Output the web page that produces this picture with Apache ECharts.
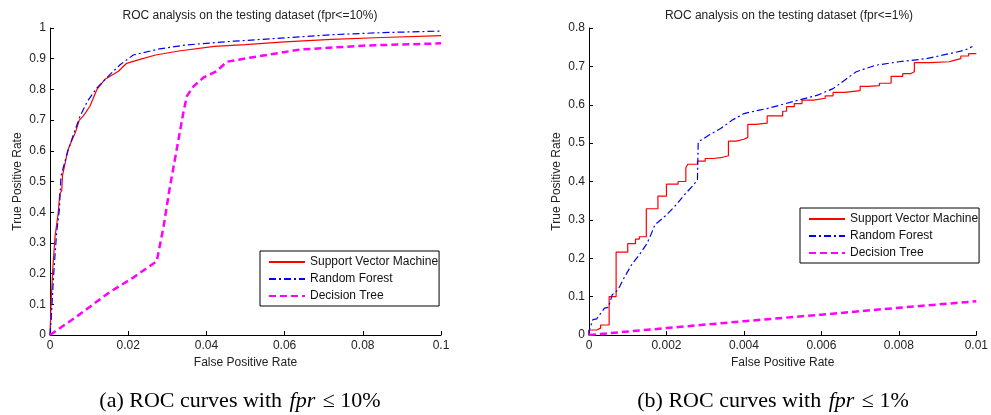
<!DOCTYPE html>
<html><head><meta charset="utf-8">
<script src="https://cdn.jsdelivr.net/npm/echarts@6/dist/echarts.min.js"></script>
<style>html,body{margin:0;padding:0;background:#fff}#c{width:991px;height:415px}</style>
</head><body><div id="c"></div>
<script>
const seriesNames = ['Support Vector Machine', 'Random Forest', 'Decision Tree'];
const titles = ['ROC analysis on the testing dataset (fpr<=10%)', 'ROC analysis on the testing dataset (fpr<=1%)'];
const captionLabels = ['(a) ROC curves with ', '(b) ROC curves with '];
const captionTails = [' \u2264 10%', ' \u2264 1%'];

// Left panel (fpr <= 10%)
const svmA = [[0,0],[0.0003,0.11],[0.0007,0.213],[0.0013,0.322],[0.0021,0.398],[0.0025,0.46],[0.003,0.47],[0.0032,0.52],[0.0038,0.555],[0.0045,0.6],[0.0055,0.631],[0.0065,0.66],[0.0075,0.70],[0.0085,0.713],[0.0102,0.745],[0.012,0.80],[0.014,0.832],[0.0175,0.859],[0.0196,0.885],[0.023,0.898],[0.027,0.912],[0.033,0.925],[0.042,0.94],[0.05,0.946],[0.06,0.955],[0.072,0.963],[0.085,0.969],[0.1,0.975]];
const rfA = [[0,0],[0.0003,0.05],[0.0009,0.19],[0.0017,0.334],[0.0024,0.409],[0.0028,0.517],[0.0037,0.56],[0.0047,0.604],[0.0062,0.66],[0.0077,0.713],[0.0095,0.76],[0.012,0.805],[0.0153,0.848],[0.018,0.881],[0.0213,0.912],[0.028,0.932],[0.035,0.945],[0.047,0.957],[0.06,0.968],[0.072,0.978],[0.085,0.985],[0.1,0.99]];
const dtA = [[0,0],[0.0068,0.06],[0.0153,0.14],[0.0213,0.187],[0.0273,0.24],[0.029,0.35],[0.0307,0.485],[0.0324,0.604],[0.0341,0.724],[0.035,0.778],[0.0367,0.81],[0.0392,0.838],[0.0426,0.859],[0.0452,0.89],[0.051,0.903],[0.064,0.93],[0.081,0.943],[0.1,0.95]];

// Right panel (fpr <= 1%)
const svmB = [[0,0],[0,0.013],[0.0002,0.018],[0.0003,0.026],[0.00052,0.1],[0.0007,0.216],[0.001,0.238],[0.0012,0.25],[0.0013,0.256],[0.00148,0.329],[0.00178,0.362],[0.002,0.393],[0.0023,0.4],[0.0025,0.436],[0.00255,0.445],[0.0028,0.453],[0.003,0.46],[0.0032,0.462],[0.0034,0.467],[0.0036,0.505],[0.0038,0.51],[0.004,0.515],[0.0041,0.549],[0.0043,0.552],[0.0046,0.571],[0.005,0.583],[0.0051,0.595],[0.0053,0.603],[0.0055,0.612],[0.0058,0.617],[0.0061,0.623],[0.0063,0.632],[0.0066,0.637],[0.007,0.648],[0.0072,0.65],[0.0075,0.656],[0.0078,0.674],[0.0081,0.681],[0.0083,0.686],[0.0084,0.71],[0.0088,0.712],[0.0093,0.715],[0.0094,0.72],[0.0096,0.727],[0.0098,0.733],[0.01,0.734]];
const rfB = [[0,0],[0,0.01],[0.0001,0.04],[0.0002,0.042],[0.0004,0.07],[0.0005,0.072],[0.0006,0.105],[0.00075,0.118],[0.0009,0.148],[0.0011,0.183],[0.0013,0.209],[0.0015,0.239],[0.0016,0.262],[0.0017,0.287],[0.002,0.313],[0.00225,0.339],[0.00246,0.365],[0.0027,0.391],[0.0028,0.405],[0.00282,0.503],[0.0031,0.521],[0.0034,0.538],[0.0037,0.56],[0.004,0.577],[0.0044,0.586],[0.0046,0.59],[0.0054,0.612],[0.0059,0.625],[0.0063,0.642],[0.0066,0.664],[0.0069,0.686],[0.0074,0.703],[0.008,0.712],[0.0087,0.72],[0.0093,0.733],[0.0097,0.742],[0.0099,0.752]];
const dtB = [[0,0],[0.002,0.018],[0.004,0.036],[0.006,0.053],[0.008,0.071],[0.01,0.088]];

const FONT = 'Liberation Sans, Arial, Helvetica, sans-serif';
const SERIF = 'Liberation Serif, Times New Roman, serif';
const fmt = v => String(parseFloat(v.toFixed(4)));

function xAxis(gi, max, interval) {
  return {
    type: 'value', gridIndex: gi, min: 0, max: max, interval: interval,
    name: 'False Positive Rate', nameLocation: 'middle', nameGap: 20,
    nameTextStyle: { fontFamily: FONT, fontSize: 12, color: '#222' },
    axisLine: { lineStyle: { color: '#000', width: 1 } },
    axisTick: { inside: true, length: 4, lineStyle: { color: '#000' } },
    axisLabel: { fontFamily: FONT, fontSize: 12, color: '#222', margin: 5, formatter: fmt },
    splitLine: { show: false }
  };
}
function yAxis(gi, max) {
  return {
    type: 'value', gridIndex: gi, min: 0, max: max, interval: 0.1,
    name: 'True Positive Rate', nameLocation: 'middle', nameGap: 26,
    nameTextStyle: { fontFamily: FONT, fontSize: 12, color: '#222' },
    axisLine: { show: true, lineStyle: { color: '#000', width: 1 } },
    axisTick: { show: true, inside: true, length: 4, lineStyle: { color: '#000' } },
    axisLabel: { fontFamily: FONT, fontSize: 12, color: '#222', margin: 4, formatter: fmt },
    splitLine: { show: false }
  };
}
function mk(name, data, gi, kind, step) {
  const styles = {
    svm: { color: '#ff0000', width: 1.2, type: 'solid' },
    rf: { color: '#0000ff', width: 1.2, type: [7, 3, 2, 3] },
    dt: { color: '#ff00ff', width: 2.5, type: [7, 4] }
  };
  const s = styles[kind];
  return {
    type: 'line', name: name, xAxisIndex: gi, yAxisIndex: gi, data: data,
    showSymbol: false, symbol: 'none', step: step || false, animation: false,
    itemStyle: { color: s.color },
    lineStyle: { color: s.color, width: s.width, type: s.type }
  };
}
function legend(left, top) {
  return {
    left: left, top: top, orient: 'vertical', data: seriesNames,
    backgroundColor: '#fff', borderColor: '#000', borderWidth: 1, borderRadius: 0,
    padding: [5, 1, 4, 8], itemGap: 5, itemWidth: 36, itemHeight: 12,
    itemStyle: { opacity: 0 },
    textStyle: { fontFamily: FONT, fontSize: 12, color: '#111' },
    selectedMode: false
  };
}
function caption(i, x) {
  return {
    type: 'text', x: x, y: 401,
    style: {
      text: '{n|' + captionLabels[i] + '}{i|fpr}{n|' + captionTails[i] + '}',
      align: 'center', verticalAlign: 'middle', textAlign: 'center', textVerticalAlign: 'middle',
      rich: {
        n: { fontFamily: SERIF, fontSize: 22, fill: '#000', color: '#000' },
        i: { fontFamily: SERIF, fontStyle: 'italic', fontSize: 22, fill: '#000', color: '#000', padding: [0, 2, 0, 2] }
      }
    }
  };
}

const chart = echarts.init(document.getElementById('c'), null, { renderer: 'canvas' });
chart.setOption({
  backgroundColor: '#fff',
  animation: false,
  title: [
    { text: titles[0], left: 245, top: 5, textAlign: 'center', textStyle: { fontFamily: FONT, fontSize: 12, fontWeight: 'normal', color: '#222' } },
    { text: titles[1], left: 784, top: 5, textAlign: 'center', textStyle: { fontFamily: FONT, fontSize: 12, fontWeight: 'normal', color: '#222' } }
  ],
  grid: [
    { left: 50, top: 28, width: 391, height: 307 },
    { left: 589, top: 28, width: 390, height: 307 }
  ],
  legend: [ legend(260, 251), legend(800, 208) ],
  xAxis: [ xAxis(0, 0.1, 0.02), xAxis(1, 0.01, 0.002) ],
  yAxis: [ yAxis(0, 1), yAxis(1, 0.8) ],
  series: [
    mk(seriesNames[0], svmA, 0, 'svm'),
    mk(seriesNames[1], rfA, 0, 'rf'),
    mk(seriesNames[2], dtA, 0, 'dt'),
    mk(seriesNames[0], svmB, 1, 'svm', 'end'),
    mk(seriesNames[1], rfB, 1, 'rf'),
    mk(seriesNames[2], dtB, 1, 'dt')
  ],
  graphic: [ caption(0, 240), caption(1, 773) ]
});
</script></body></html>
